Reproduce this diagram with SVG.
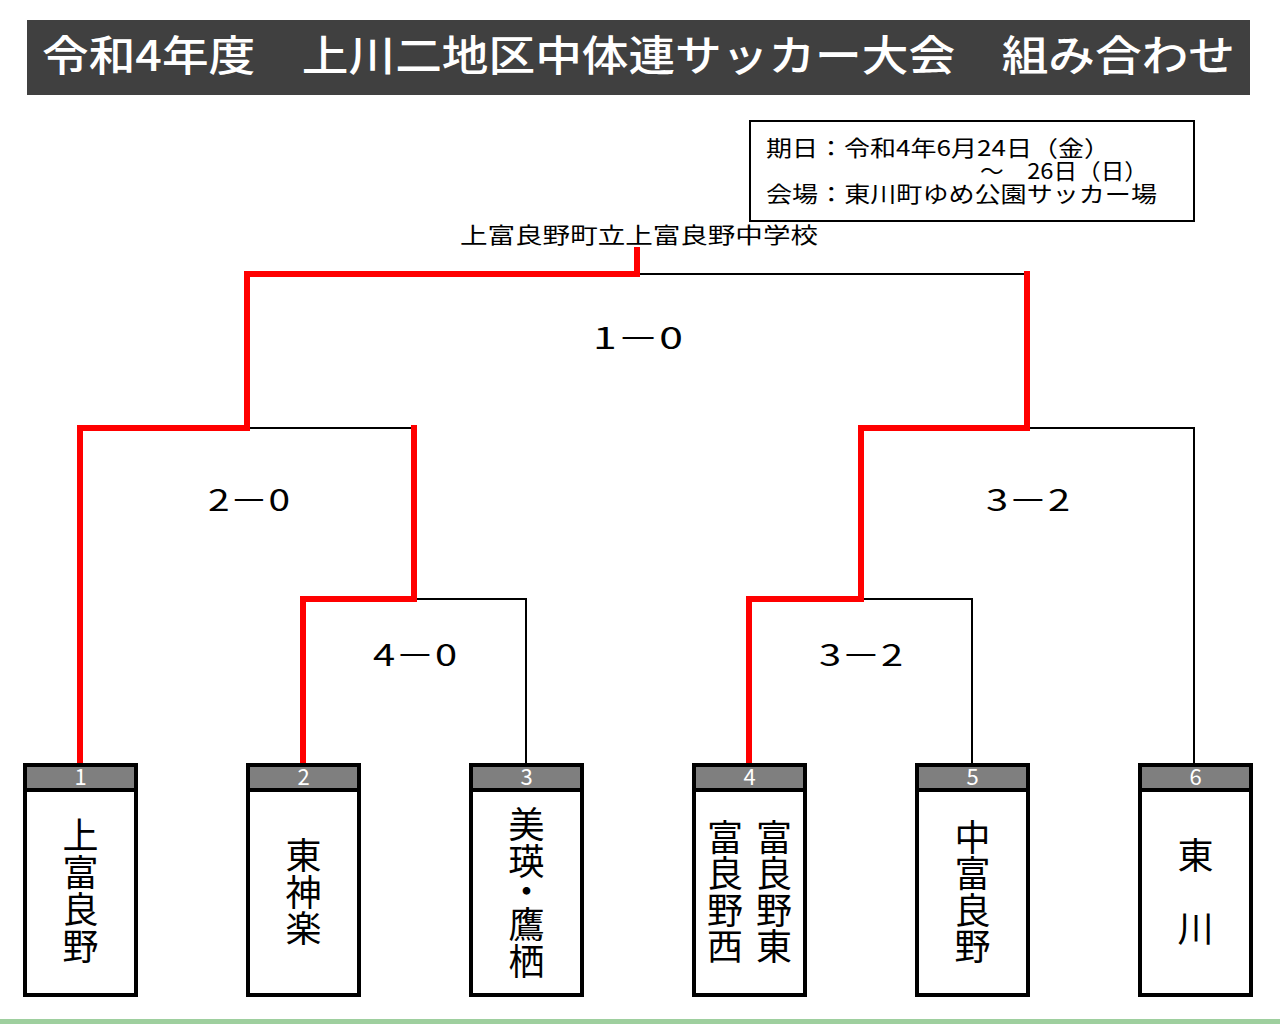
<svg xmlns="http://www.w3.org/2000/svg" width="1280" height="1024" viewBox="0 0 1280 1024">
<style>
  .jp { font-family: "Noto Sans CJK JP", "Noto Sans", sans-serif; }
  .title { font-size: 42px; fill: #ffffff; font-weight: 500; }
  .info { font-size: 22px; fill: #000000; }
  .score { font-size: 30px; fill: #000000; text-anchor: middle; }
  .num { font-size: 22px; fill: #ffffff; text-anchor: middle; }
  .team { font-size: 36px; fill: #000000; text-anchor: middle; }
  .box { fill: #ffffff; stroke: #000000; stroke-width: 4; }
  .hdr { fill: #7f7f7f; }
  .sep { stroke: #000000; stroke-width: 4; }
  .win { fill: none; stroke: #ff0000; stroke-width: 6; stroke-linejoin: miter; stroke-linecap: square; }
  .lose { fill: none; stroke: #000000; stroke-width: 2; }
</style>
<rect x="0" y="0" width="1280" height="1024" fill="#ffffff"/>

<g id="title">
  <rect x="27" y="20" width="1223" height="75" fill="#404040"/>
  <text class="jp title" x="42" y="71" textLength="1193" lengthAdjust="spacingAndGlyphs">令和4年度　上川二地区中体連サッカー大会　組み合わせ</text>
</g>

<g id="info">
  <rect x="750" y="121" width="444" height="100" fill="#ffffff" stroke="#000000" stroke-width="2"/>
  <text class="jp info" x="766" y="156" textLength="344" lengthAdjust="spacingAndGlyphs">期日：令和4年6月24日（金）</text>
  <text class="jp info" x="980" y="179" textLength="168" lengthAdjust="spacingAndGlyphs">～　26日（日）</text>
  <text class="jp info" x="766" y="202" textLength="391" lengthAdjust="spacingAndGlyphs">会場：東川町ゆめ公園サッカー場</text>
</g>

<g id="champion">
  <text class="jp info" x="460" y="243" font-size="23" textLength="358" lengthAdjust="spacingAndGlyphs">上富良野町立上富良野中学校</text>
</g>

<g id="connectors">
  <path class="lose" d="M414 428 H247"/>
  <path class="lose" d="M414 599 H526 V763"/>
  <path class="lose" d="M637 274 H1027"/>
  <path class="lose" d="M861 599 H972 V763"/>
  <path class="lose" d="M1027 428 H1194 V763"/>
  <path class="win" d="M80 763 V428 H247 V274 H637 V250"/>
  <path class="win" d="M303 763 V599 H414 V428"/>
  <path class="win" d="M749 763 V599 H861 V428 H1027 V274"/>
</g>

<g id="scores">
  <text class="jp score" x="638" y="349" font-size="32" textLength="90" lengthAdjust="spacingAndGlyphs">1－0</text>
  <text class="jp score" x="249" y="511" textLength="82" lengthAdjust="spacingAndGlyphs">2－0</text>
  <text class="jp score" x="1028" y="511" textLength="84" lengthAdjust="spacingAndGlyphs">3－2</text>
  <text class="jp score" x="415" y="666" textLength="84" lengthAdjust="spacingAndGlyphs">4－0</text>
  <text class="jp score" x="861" y="666" textLength="84" lengthAdjust="spacingAndGlyphs">3－2</text>
</g>

<g id="team1">
  <rect class="box" x="25" y="765" width="111" height="230"/>
  <rect class="hdr" x="27" y="767" width="107" height="23"/>
  <line class="sep" x1="25" y1="790" x2="136" y2="790"/>
  <text class="jp num" x="80.5" y="785">1</text>
  <text class="jp team"><tspan x="80.5" y="849">上</tspan><tspan x="80.5" y="886">富</tspan><tspan x="80.5" y="923">良</tspan><tspan x="80.5" y="960">野</tspan></text>
</g>

<g id="team2">
  <rect class="box" x="248" y="765" width="111" height="230"/>
  <rect class="hdr" x="250" y="767" width="107" height="23"/>
  <line class="sep" x1="248" y1="790" x2="359" y2="790"/>
  <text class="jp num" x="303.5" y="785">2</text>
  <text class="jp team"><tspan x="303.5" y="869">東</tspan><tspan x="303.5" y="906">神</tspan><tspan x="303.5" y="942">楽</tspan></text>
</g>

<g id="team3">
  <rect class="box" x="471" y="765" width="111" height="230"/>
  <rect class="hdr" x="473" y="767" width="107" height="23"/>
  <line class="sep" x1="471" y1="790" x2="582" y2="790"/>
  <text class="jp num" x="526.5" y="785">3</text>
  <text class="jp team"><tspan x="526.5" y="838">美</tspan><tspan x="526.5" y="875">瑛</tspan><tspan x="526.5" y="905">・</tspan><tspan x="526.5" y="938">鷹</tspan><tspan x="526.5" y="975">栖</tspan></text>
</g>

<g id="team4">
  <rect class="box" x="694" y="765" width="111" height="230"/>
  <rect class="hdr" x="696" y="767" width="107" height="23"/>
  <line class="sep" x1="694" y1="790" x2="805" y2="790"/>
  <text class="jp num" x="749.5" y="785">4</text>
  <text class="jp team"><tspan x="774" y="851">富</tspan><tspan x="774" y="887">良</tspan><tspan x="774" y="924">野</tspan><tspan x="774" y="960">東</tspan></text>
  <text class="jp team"><tspan x="725" y="851">富</tspan><tspan x="725" y="887">良</tspan><tspan x="725" y="924">野</tspan><tspan x="725" y="960">西</tspan></text>
</g>

<g id="team5">
  <rect class="box" x="917" y="765" width="111" height="230"/>
  <rect class="hdr" x="919" y="767" width="107" height="23"/>
  <line class="sep" x1="917" y1="790" x2="1028" y2="790"/>
  <text class="jp num" x="972.5" y="785">5</text>
  <text class="jp team"><tspan x="972.5" y="851">中</tspan><tspan x="972.5" y="887">富</tspan><tspan x="972.5" y="924">良</tspan><tspan x="972.5" y="960">野</tspan></text>
</g>

<g id="team6">
  <rect class="box" x="1140" y="765" width="111" height="230"/>
  <rect class="hdr" x="1142" y="767" width="107" height="23"/>
  <line class="sep" x1="1140" y1="790" x2="1251" y2="790"/>
  <text class="jp num" x="1195.5" y="785">6</text>
  <text class="jp team"><tspan x="1195.5" y="869">東</tspan><tspan x="1195.5" y="942">川</tspan></text>
</g>

<rect x="0" y="1019" width="1280" height="5" fill="#9ecf9e"/>
</svg>
